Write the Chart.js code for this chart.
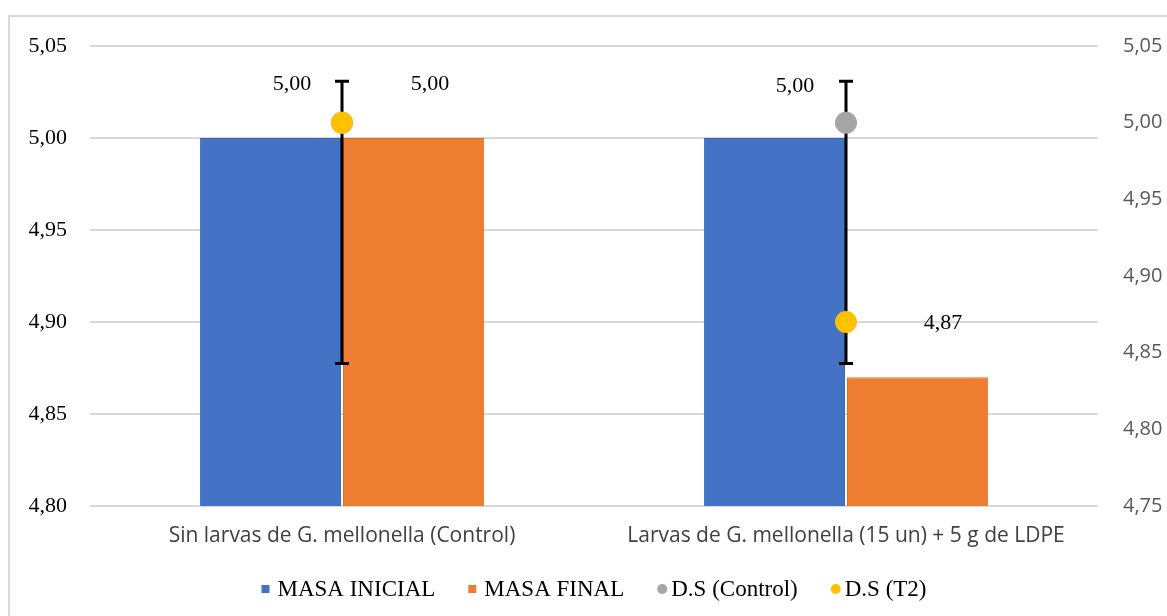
<!DOCTYPE html>
<html>
<head>
<meta charset="utf-8">
<script src="https://cdn.jsdelivr.net/npm/chart.js@4"></script>
<style>
  body { margin: 0; background: #fff; overflow: hidden; }
  #frame { position: absolute; left: 8px; top: 15px; width: 1300px; height: 800px; border: 2px solid #d9d9d9; }
  #chart { position: absolute; left: 0; top: 0; }
</style>
</head>
<body>
<div id="frame"></div>
<canvas id="chart" width="1167" height="616"></canvas>
<script>
const categories = ["Sin larvas de G. mellonella (Control)", "Larvas de G. mellonella (15 un) + 5 g de LDPE"];
const masaInicial = [5.00, 5.00];
const masaFinal = [5.00, 4.87];
const dsControl = [5.00, 5.00];
const dsT2 = [5.00, 4.87];
// barras de error (eje derecho)
const errLow = [4.843, 4.843];
const errHigh = [5.027, 5.027];

const SERIF = "'Liberation Serif', 'Times New Roman', serif";
const SANS = "'Open Sans', 'Noto Sans', sans-serif";

function fmt(v) { return v.toFixed(2).replace(".", ","); }

// barras de error dibujadas entre las barras y los puntos
const errorBars = {
  id: "errorBars",
  beforeDatasetDraw(chart, args) {
    if (args.index !== 2) return;
    const ctx = chart.ctx;
    const x = chart.scales.x, y2 = chart.scales.y2;
    ctx.save();
    ctx.strokeStyle = "#000";
    ctx.lineWidth = 3;
    for (let i = 0; i < categories.length; i++) {
      const px = x.getPixelForValue(i);
      const top = y2.getPixelForValue(errHigh[i]);
      const bot = y2.getPixelForValue(errLow[i]);
      ctx.beginPath();
      ctx.moveTo(px, top); ctx.lineTo(px, bot);
      ctx.moveTo(px - 7, top); ctx.lineTo(px + 7, top);
      ctx.moveTo(px - 7, bot); ctx.lineTo(px + 7, bot);
      ctx.stroke();
    }
    ctx.restore();
  }
};

// etiquetas de datos de los puntos
const pointLabels = {
  id: "pointLabels",
  afterDatasetsDraw(chart) {
    const ctx = chart.ctx;
    ctx.save();
    ctx.font = "22px " + SERIF;
    ctx.fillStyle = "#000";
    ctx.textAlign = "center";
    ctx.textBaseline = "middle";
    chart.data.datasets.forEach((ds, di) => {
      if (!ds.labelOffsets) return;
      chart.getDatasetMeta(di).data.forEach((pt, i) => {
        const off = ds.labelOffsets[i];
        ctx.fillText(fmt(ds.data[i]), pt.x + off[0], pt.y + off[1]);
      });
    });
    ctx.restore();
  }
};

// leyenda propia
const legendBox = {
  id: "legendBox",
  afterDraw(chart) {
    const ctx = chart.ctx;
    ctx.save();
    ctx.font = "23px " + SERIF;
    ctx.textBaseline = "middle";
    const items = chart.data.datasets.map(ds => ({
      text: ds.label,
      color: ds.backgroundColor,
      round: ds.type === "line"
    }));
    const gapItem = 33;
    let total = 0;
    items.forEach(it => {
      it.mw = it.round ? 10 : 8;
      it.gap = it.round ? 4 : 8;
      it.tw = ctx.measureText(it.text).width;
      total += it.mw + it.gap + it.tw;
    });
    total += gapItem * (items.length - 1);
    const ca = chart.chartArea;
    let x = (ca.left + ca.right) / 2 - total / 2;
    const y = 589;
    items.forEach(it => {
      ctx.fillStyle = it.color;
      if (it.round) {
        ctx.beginPath();
        ctx.arc(x + 5, y, 5, 0, Math.PI * 2);
        ctx.fill();
      } else {
        ctx.fillRect(x, y - 4, 8, 8);
      }
      x += it.mw + it.gap;
      ctx.fillStyle = "#000";
      ctx.fillText(it.text, x, y + 1);
      x += it.tw + gapItem;
    });
    ctx.restore();
  }
};

new Chart(document.getElementById("chart"), {
  type: "bar",
  data: {
    labels: categories,
    datasets: [
      {
        label: "MASA INICIAL", data: masaInicial, yAxisID: "y", order: 2,
        backgroundColor: "#4472C4", borderColor: "#3a65b3", borderWidth: 1,
        categoryPercentage: 0.568, barPercentage: 0.986
      },
      {
        label: "MASA FINAL", data: masaFinal, yAxisID: "y", order: 3,
        backgroundColor: "#ED7D31", borderColor: "#de7129", borderWidth: 1,
        categoryPercentage: 0.568, barPercentage: 0.986
      },
      {
        type: "line", label: "D.S (Control)", data: dsControl, yAxisID: "y2", order: 1,
        showLine: false, backgroundColor: "#A5A5A5", borderWidth: 0,
        pointRadius: 11, pointHoverRadius: 11,
        labelOffsets: [[-50, -38], [-51, -36]]
      },
      {
        type: "line", label: "D.S (T2)", data: dsT2, yAxisID: "y2", order: 0,
        showLine: false, backgroundColor: "#FFC000", borderWidth: 0,
        pointRadius: 11, pointHoverRadius: 11,
        labelOffsets: [[88, -38], [97, 1]]
      }
    ]
  },
  options: {
    responsive: false,
    animation: false,
    devicePixelRatio: 1,
    layout: { padding: { top: 46, bottom: 60, left: 0, right: 0 } },
    plugins: { legend: { display: false }, tooltip: { enabled: false } },
    scales: {
      x: {
        grid: { display: false, drawTicks: false },
        border: { display: false },
        ticks: { padding: 17, color: "#404040", font: { family: SANS, size: 21 } },
        afterFit(s) { s.height = 50; }
      },
      y: {
        position: "left", min: 4.80, max: 5.05,
        grid: { color: "#d9d9d9", lineWidth: 2, drawTicks: false },
        border: { display: false },
        ticks: { stepSize: 0.05, padding: 23, color: "#000", font: { family: SERIF, size: 22 }, callback: v => fmt(v) },
        afterFit(s) { s.width = 90; }
      },
      y2: {
        position: "right", min: 4.75, max: 5.05,
        grid: { display: false, drawTicks: false },
        border: { display: false },
        ticks: { stepSize: 0.05, padding: 25, color: "#595959", font: { family: SANS, size: 20 }, callback: v => fmt(v) },
        afterFit(s) { s.width = 69; }
      }
    }
  },
  plugins: [errorBars, pointLabels, legendBox]
});
</script>
</body>
</html>
